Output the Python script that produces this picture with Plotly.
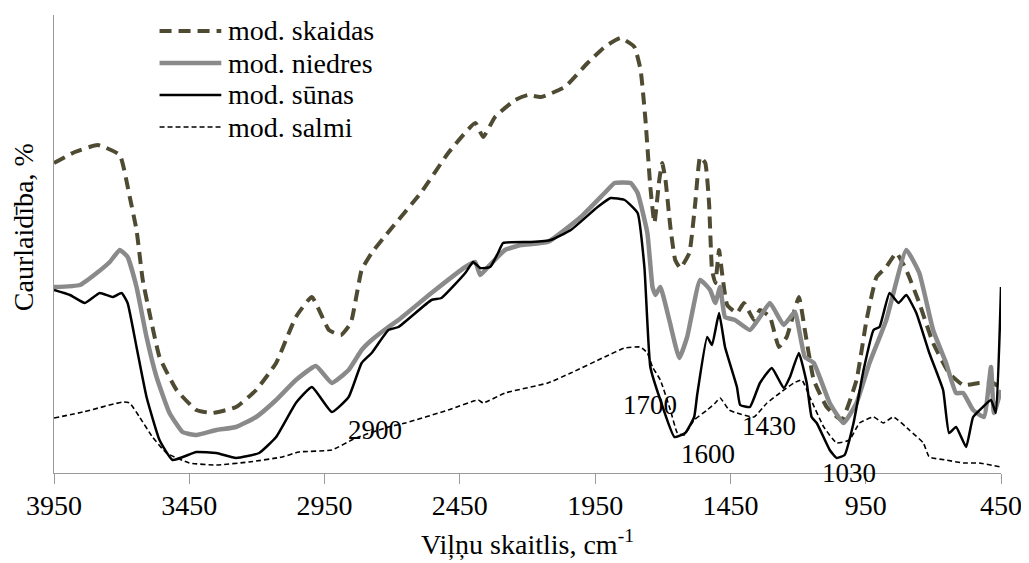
import plotly.graph_objects as go

# ---- data (wavenumber, cm-1 ; transmittance, arbitrary %) ----
skaidas_wn = [3950, 3873, 3788, 3707, 3670, 3645, 3622, 3597, 3560, 3497, 3424, 3365, 3277, 3203, 3129,
              3056, 2997, 2934, 2890, 2853, 2813, 2776, 2714, 2592, 2493, 2393, 2364, 2320, 2246, 2198,
              2150, 2062, 1978, 1915, 1856, 1805, 1782, 1764, 1746, 1731, 1713, 1702, 1690, 1672, 1654,
              1635, 1602, 1580, 1562, 1543, 1529, 1518, 1506, 1492, 1481, 1462, 1426, 1400, 1363, 1341,
              1304, 1271, 1242, 1197, 1175, 1142, 1094, 1039, 984, 947, 910, 874, 837, 800, 752,
              701, 642, 590, 531, 480, 450]
skaidas_t = [31.0, 32.1, 32.8, 31.8, 27.6, 24.3, 19.3, 16.0, 11.6, 8.3, 6.3, 6.0, 6.6, 8.3, 11.0,
             15.6, 17.6, 14.3, 13.8, 15.0, 20.3, 22.0, 24.1, 28.1, 32.0, 35.0, 33.6, 35.6, 37.3, 37.8,
             37.6, 38.6, 41.0, 42.6, 43.5, 42.6, 40.3, 35.3, 28.6, 25.0, 29.3, 31.0, 29.3, 24.6, 21.3,
             20.5, 22.0, 27.0, 31.6, 31.0, 27.0, 20.3, 19.0, 22.3, 20.0, 16.8, 16.0, 17.0, 15.3, 16.3,
             15.6, 12.6, 13.6, 17.6, 14.3, 9.3, 6.6, 5.3, 9.3, 15.3, 19.6, 20.6, 22.0, 20.3, 17.0,
             13.0, 10.0, 8.8, 9.0, 9.0, 8.5]

niedres_wn = [3950, 3854, 3792, 3744, 3707, 3678, 3645, 3608, 3571, 3523, 3475, 3424, 3350, 3277, 3203,
              3129, 3056, 2982, 2923, 2861, 2813, 2776, 2714, 2677, 2555, 2430, 2393, 2375, 2346, 2283,
              2224, 2125, 2003, 1915, 1878, 1819, 1793, 1757, 1738, 1727, 1709, 1676, 1639, 1610, 1562,
              1525, 1506, 1488, 1470, 1433, 1378, 1341, 1304, 1253, 1212, 1175, 1142, 1083, 1032, 984,
              936, 874, 800, 752, 701, 653, 616, 590, 553, 513, 487, 476, 450]
niedres_t = [18.6, 18.8, 20.0, 21.1, 22.3, 21.6, 18.6, 13.6, 9.6, 6.0, 4.1, 3.8, 4.3, 4.6, 5.6,
             7.3, 9.3, 10.7, 9.0, 10.3, 12.3, 13.3, 14.6, 15.3, 18.0, 20.6, 21.1, 19.8, 20.6, 22.3,
             22.8, 23.1, 25.6, 28.0, 29.0, 29.0, 28.0, 24.0, 18.6, 17.8, 18.6, 15.3, 11.5, 13.6, 19.3,
             18.3, 17.0, 18.6, 15.6, 15.3, 14.3, 15.6, 17.0, 14.8, 16.1, 11.6, 11.0, 7.0, 5.0, 7.0,
             11.0, 15.3, 22.3, 20.0, 14.3, 11.0, 8.0, 8.0, 6.3, 5.6, 10.6, 6.0, 8.3]

sunas_wn = [3950, 3891, 3836, 3781, 3733, 3700, 3678, 3645, 3608, 3560, 3512, 3424, 3350, 3277, 3192,
            3129, 3056, 2997, 2923, 2861, 2813, 2776, 2714, 2677, 2555, 2518, 2430, 2401, 2375, 2338,
            2309, 2290, 2187, 2114, 2040, 1941, 1893, 1841, 1793, 1768, 1746, 1709, 1657, 1617, 1584,
            1573, 1536, 1518, 1492, 1470, 1426, 1414, 1378, 1341, 1297, 1253, 1230, 1197, 1168, 1150,
            1131, 1083, 1057, 1028, 995, 958, 921, 899, 862, 829, 800, 763, 715, 664, 642,
            616, 579, 553, 517, 487, 469, 450]
sunas_t = [18.3, 17.8, 17.0, 18.0, 17.6, 18.0, 17.0, 12.6, 7.6, 3.3, 1.3, 2.1, 2.0, 1.5, 2.0,
           3.6, 7.0, 8.6, 6.1, 7.6, 11.0, 12.0, 14.3, 14.6, 17.3, 17.5, 20.0, 21.1, 20.5, 20.6,
           22.0, 23.0, 23.1, 23.3, 24.3, 26.6, 27.5, 27.3, 26.0, 20.6, 10.6, 7.3, 3.6, 4.0, 5.6,
           7.8, 13.6, 12.8, 16.0, 12.6, 8.6, 6.8, 6.6, 9.0, 10.5, 8.5, 9.6, 12.0, 9.0, 5.6,
           5.0, 2.3, 1.5, 1.8, 5.0, 10.3, 14.3, 14.6, 18.0, 17.0, 17.8, 16.0, 12.0, 8.3, 4.0,
           4.6, 2.6, 5.6, 6.6, 7.3, 6.0, 18.6]

salmi_wn = [3950, 3843, 3696, 3670, 3634, 3586, 3534, 3450, 3350, 3229, 3107, 3045, 2923, 2835, 2714,
            2651, 2493, 2382, 2364, 2283, 2125, 2040, 1915, 1841, 1782, 1757, 1738, 1709, 1672, 1646,
            1621, 1584, 1536, 1506, 1488, 1455, 1426, 1363, 1315, 1267, 1216, 1186, 1157, 1105, 1057,
            1010, 973, 921, 885, 848, 789, 737, 715, 653, 590, 531, 450]
salmi_t = [5.5, 6.1, 7.1, 7.0, 5.6, 3.6, 2.0, 1.0, 0.8, 1.1, 1.6, 2.1, 2.3, 3.5, 4.6,
           5.0, 6.3, 7.3, 7.0, 8.0, 9.0, 10.0, 11.6, 12.5, 12.6, 12.0, 10.6, 9.3, 6.3, 4.0,
           3.8, 5.3, 6.3, 7.0, 7.5, 6.3, 6.0, 5.6, 7.0, 8.0, 9.0, 9.3, 7.6, 4.6, 3.0,
           3.3, 5.0, 5.6, 5.0, 5.6, 4.3, 3.0, 1.6, 1.3, 1.0, 1.0, 0.6]

series_names = ["mod. skaidas", "mod. niedres", "mod. sūnas", "mod. salmi"]
x_ticks = [3950, 3450, 2950, 2450, 1950, 1450, 950, 450]

peak_labels = ["2900", "1700", "1600", "1430", "1030"]
peak_label_x = [2765, 1749, 1532, 1308, 1013]
peak_label_y = [4.3, 6.8, 1.9, 4.7, 0.0]

# ---- styles ----
FONT = "Liberation Serif"
styles = [
    dict(color="#4f4b33", width=4, dash="12px,7px"),
    dict(color="#8a8a8a", width=4.5, dash="solid"),
    dict(color="#000000", width=2.5, dash="solid"),
    dict(color="#000000", width=1.6, dash="5px,3px"),
]
data = [(skaidas_wn, skaidas_t), (niedres_wn, niedres_t), (sunas_wn, sunas_t), (salmi_wn, salmi_t)]

fig = go.Figure()
for (xs, ys), name, st in zip(data, series_names, styles):
    fig.add_trace(go.Scatter(x=xs, y=ys, mode="lines", name=name, line=st,
                             line_shape="spline", line_smoothing=0.4, showlegend=False))

OFF = 8  # page body margin
W, H = 1029 - OFF, 563 - OFF
PL, PR, PT, PB = 54, 1005, 15, 473  # plot area in window pixels
L, T = PL - OFF, PT - OFF
R = W - (PR - OFF)
B = H - (PB - OFF)
pw, ph = PR - PL, PB - PT

def px_to_paper(px, py):
    return (px - PL) / pw, (PB - py) / ph

# legend drawn as line samples + labels
leg_rows = [31, 63, 95, 127]
shapes = []
annotations = []
for name, st, ry in zip(series_names, styles, leg_rows):
    x0, y0 = px_to_paper(160, ry)
    x1, _ = px_to_paper(222, ry)
    shapes.append(dict(type="line", xref="paper", yref="paper", x0=x0, x1=x1, y0=y0, y1=y0,
                       line=dict(color=st["color"], width=st["width"], dash=st["dash"])))
    tx, _ = px_to_paper(227, ry)
    annotations.append(dict(xref="paper", yref="paper", x=tx, y=y0, text=name, showarrow=False,
                            xanchor="left", yanchor="middle", font=dict(family=FONT, size=28, color="black")))

for t, xv, yv in zip(peak_labels, peak_label_x, peak_label_y):
    annotations.append(dict(x=xv, y=yv, text=t, showarrow=False, xanchor="center", yanchor="middle",
                            font=dict(family=FONT, size=27, color="black")))

yx, yy = px_to_paper(23, 227)
annotations.append(dict(xref="paper", yref="paper", x=yx, y=yy, text="Caurlaidība, %", textangle=-90,
                        showarrow=False, xanchor="center", yanchor="middle",
                        font=dict(family=FONT, size=28, color="black")))

fig.update_layout(
    width=W, height=H,
    margin=dict(l=L, r=R, t=T, b=B, pad=0),
    paper_bgcolor="white", plot_bgcolor="white",
    font=dict(family=FONT, size=28, color="black"),
    shapes=shapes, annotations=annotations,
    xaxis=dict(range=[3950, 450], tickvals=x_ticks, ticktext=[str(v) for v in x_ticks],
               showgrid=False, zeroline=False, showline=True, linecolor="#9a9a9a", linewidth=1,
               ticks="outside", ticklen=10, tickcolor="#9a9a9a", tickwidth=1,
               ticklabelstandoff=-3,
               tickfont=dict(family=FONT, size=28, color="black"),
               title=dict(text="Viļņu skaitlis, cm<sup>-1</sup>", font=dict(family=FONT, size=28, color="black"),
                          standoff=14)),
    yaxis=dict(range=[0, 45.8], showgrid=False, zeroline=False, showline=True, linecolor="#9a9a9a",
               linewidth=1, ticks="", showticklabels=False),
)

fig.write_html("out.html")
